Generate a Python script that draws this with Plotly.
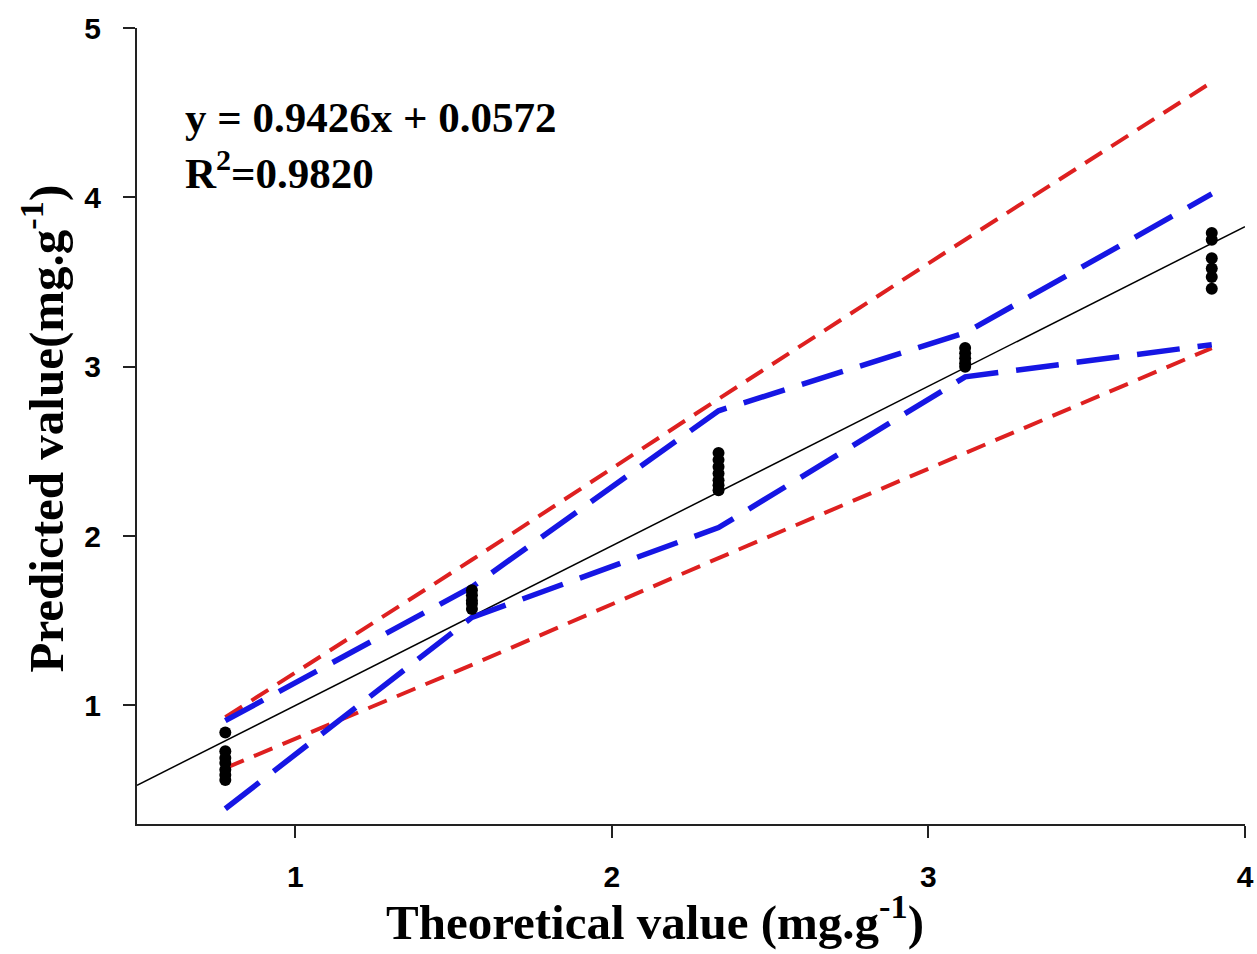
import plotly.graph_objects as go

# Theoretical (x) levels and predicted replicates at each level
level_x = [0.779, 1.558, 2.337, 3.116, 3.895]
pred_groups = [
    [0.84, 0.73, 0.69, 0.66, 0.62, 0.59, 0.56],
    [1.68, 1.65, 1.62, 1.60, 1.57],
    [2.49, 2.45, 2.41, 2.37, 2.33, 2.30, 2.27],
    [3.11, 3.08, 3.05, 3.02, 3.00],
    [3.79, 3.75, 3.64, 3.58, 3.53, 3.46],
]

# Prediction band (red) and confidence band (blue) values at each level
pred_upper = [0.93, 1.86, 2.81, 3.75, 4.68]
pred_lower = [0.63, 1.24, 1.87, 2.49, 3.11]
conf_upper = [0.91, 1.70, 2.74, 3.20, 4.02]
conf_lower = [0.39, 1.52, 2.05, 2.94, 3.13]

# Regression fit
slope, intercept = 0.9426, 0.0572
fit_x = [0.5, 4.0]
fit_y = [slope * v + intercept for v in fit_x]

x_ticks = [1, 2, 3, 4]
y_ticks = [1, 2, 3, 4, 5]

pts_x, pts_y = [], []
for xv, grp in zip(level_x, pred_groups):
    pts_x += [xv] * len(grp)
    pts_y += grp

red = "rgb(222,32,32)"
blue = "rgb(22,22,228)"

fig = go.Figure()
fig.add_trace(go.Scatter(x=fit_x, y=fit_y, mode="lines",
                         line=dict(color="black", width=1.5)))
for ys in (pred_upper, pred_lower):
    fig.add_trace(go.Scatter(x=level_x, y=ys, mode="lines",
                             line=dict(color=red, width=4, dash="20px,11px")))
for ys in (conf_upper, conf_lower):
    fig.add_trace(go.Scatter(x=level_x, y=ys, mode="lines",
                             line=dict(color=blue, width=5.5, dash="43px,18px")))
fig.add_trace(go.Scatter(x=pts_x, y=pts_y, mode="markers",
                         marker=dict(color="black", size=12, symbol="circle")))

tick_font = dict(family="Liberation Sans, Arial", size=30, color="black")
title_font = dict(family="Liberation Serif, Times New Roman", size=49, color="black")
eq_font = dict(family="Liberation Serif, Times New Roman", size=43, color="black")

axis_common = dict(ticks="outside", ticklen=12, tickwidth=1.5, tickcolor="#222",
                   showline=True, linecolor="#222", linewidth=2, showgrid=False,
                   zeroline=False, tickfont=tick_font, automargin=False)

fig.update_layout(
    width=1257, height=954,
    margin=dict(l=137, r=12, t=28, b=130),
    paper_bgcolor="white", plot_bgcolor="white",
    showlegend=False,
    xaxis=dict(range=[0.5, 4.0], tickvals=x_ticks,
               ticktext=[f"<b>{v}</b>" for v in x_ticks],
               ticklabelstandoff=13, **axis_common),
    yaxis=dict(range=[0.3, 5.0], tickvals=y_ticks,
               ticktext=[f"<b>{v}</b>" for v in y_ticks],
               ticklabelstandoff=16, **axis_common),
    annotations=[
        dict(text="<b>Theoretical value (mg.g<sup>-1</sup>)</b>", xref="paper", yref="paper",
             x=(655 - 137) / (1245 - 137), y=-0.077, xanchor="center", yanchor="top",
             showarrow=False, font=title_font),
        dict(text="<b>Predicted value(mg.g<sup>-1</sup>)</b>", xref="paper", yref="paper",
             x=-0.0848, y=0.497, xanchor="center", yanchor="middle", textangle=-90,
             showarrow=False, font=title_font),
        dict(text="<b>y = 0.9426x + 0.0572</b>", xref="paper", yref="paper",
             x=(183 - 137) / (1245 - 137), y=(824 - 118) / (824 - 28),
             xanchor="left", yanchor="middle", showarrow=False, font=eq_font),
        dict(text="<b>R<sup>2</sup>=0.9820</b>", xref="paper", yref="paper",
             x=(183 - 137) / (1245 - 137), y=(824 - 170) / (824 - 28),
             xanchor="left", yanchor="middle", showarrow=False, font=eq_font),
    ],
)

fig.write_html("out.html")
